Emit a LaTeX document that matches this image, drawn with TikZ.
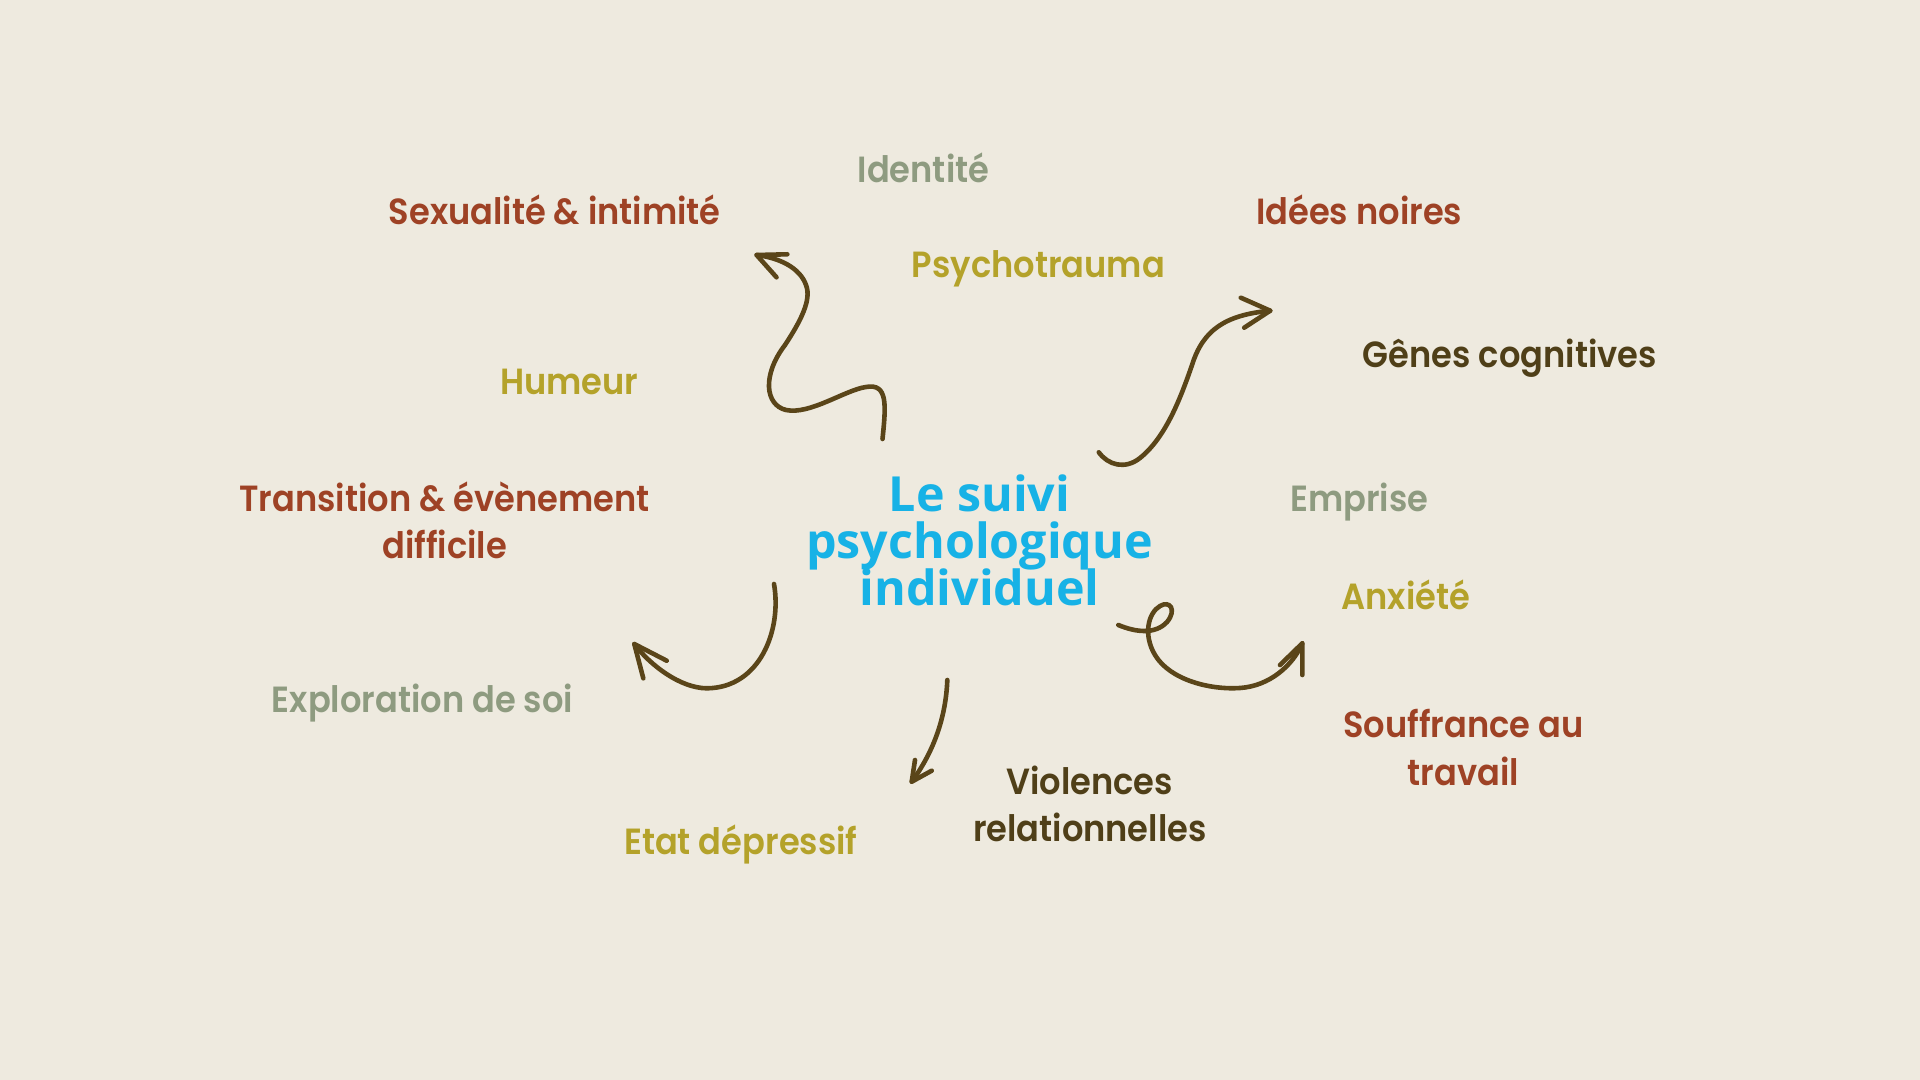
\documentclass[tikz,border=0pt]{standalone}
\usepackage{fontspec}
\newfontfamily\popfont{Poppins}[UprightFont=* SemiBold, FakeStretch=0.925]
\newfontfamily\osfont{Open Sans}[UprightFont=* Bold]
\definecolor{bgc}{HTML}{EEEADF}
\definecolor{rust}{HTML}{9E4225}
\definecolor{olive}{HTML}{B4A22A}
\definecolor{sage}{HTML}{8E9B80}
\definecolor{dbrown}{HTML}{4F3F18}
\definecolor{cyanc}{HTML}{17B2E6}
\definecolor{arrowc}{HTML}{5A4519}
\tikzset{
  lbl/.style={anchor=base, inner sep=0pt, font=\popfont\fontsize{18.2pt}{24pt}\selectfont},
  ttl/.style={anchor=base, inner sep=0pt, text=cyanc, font=\osfont\fontsize{24.2pt}{23.3pt}\selectfont},
  swirl/.style={draw=arrowc, line width=2.3pt, line cap=round, line join=round}
}
\begin{document}
\begin{tikzpicture}[x=0.5pt,y=-0.5pt]
\fill[bgc] (0,0) rectangle (1920,1080);
\useasboundingbox (0,0) rectangle (1920,1080);

% labels
\node[lbl, text=sage]   (ident) at (923.5,183) {Identité};
\node[lbl, text=rust]   (sexu)  at (554.7,224.2) {Sexualité \& intimité};
\node[lbl, text=rust]   (idees) at (1359.2,224.5) {Idées noires};
\node[lbl, text=olive]  (psych) at (1038.4,277.3) {Psychotrauma};
\node[lbl, text=dbrown] (genes) at (1509.8,367.9) {Gênes cognitives};
\node[lbl, text=olive]  (hum)   at (569.4,394.8) {Humeur};
\node[lbl, text=rust]   (tra1)  at (444.5,511.1) {Transition \& évènement};
\node[lbl, text=rust]   (tra2)  at (444.5,558.9) {difficile};
\node[lbl, text=sage]   (empr)  at (1359.2,511.1) {Emprise};
\node[lbl, text=olive]  (anx)   at (1405.7,609.1) {Anxiété};
\node[lbl, text=sage]   (expl)  at (422.5,712) {Exploration de soi};
\node[lbl, text=rust]   (sou1)  at (1463.3,737.7) {Souffrance au};
\node[lbl, text=rust]   (sou2)  at (1463.3,785.4) {travail};
\node[lbl, text=dbrown] (vio1)  at (1089.8,794) {Violences};
\node[lbl, text=dbrown] (vio2)  at (1089.8,841.7) {relationnelles};
\node[lbl, text=olive]  (etat)  at (740.8,854) {Etat dépressif};

% title
\node[ttl] (t1) at (979.6,511.7) {Le suivi};
\node[ttl] (t2) at (979.6,558.3) {psychologique};
\node[ttl] (t3) at (979.6,605) {individuel};

% arrow 1 (wiggle, up-left)
\draw[swirl] (882.5,439) .. controls (886,405) and (888,383) .. (866,387)
  .. controls (845,390) and (810,415) .. (786,410)
  .. controls (765,405) and (762,375) .. (785,345)
  .. controls (800,322) and (812,300) .. (806,285)
  .. controls (800,268) and (780,258) .. (756.6,255);
\draw[swirl] (787.3,254.3) -- (756.6,255) -- (776.5,277.3);

% arrow 2 (up-right)
\draw[swirl] (1098.8,452.3) .. controls (1108,465) and (1125,470) .. (1140,458)
  .. controls (1165,438) and (1180,400) .. (1192,365)
  .. controls (1203,330) and (1225,315) .. (1270.2,310.7);
\draw[swirl] (1240.8,297.7) -- (1270.2,310.7) -- (1244.2,327.7);

% arrow 3 (arc, down-left)
\draw[swirl] (774,584) .. controls (782,630) and (760,688) .. (706.7,688.3)
  .. controls (680,688) and (650,665) .. (634.3,644);
\draw[swirl] (666.7,660.7) -- (634.3,644) -- (643.3,678.3);

% arrow 4 (down)
\draw[swirl] (947.3,680) .. controls (946,715) and (935,750) .. (911.7,781.7);
\draw[swirl] (915,760) -- (911.7,781.7) -- (931.7,770.7);

% arrow 5 (loop, right)
\draw[swirl] (1118.3,625) .. controls (1135,632) and (1155,635) .. (1167,622)
  .. controls (1177,610) and (1170,600) .. (1160,606)
  .. controls (1148,613) and (1143,635) .. (1155,655)
  .. controls (1170,680) and (1210,690) .. (1240,688)
  .. controls (1270,686) and (1293,665) .. (1302.3,643.3);
\draw[swirl] (1280,665) -- (1302.3,643.3) -- (1302.3,675);
\end{tikzpicture}
\end{document}
